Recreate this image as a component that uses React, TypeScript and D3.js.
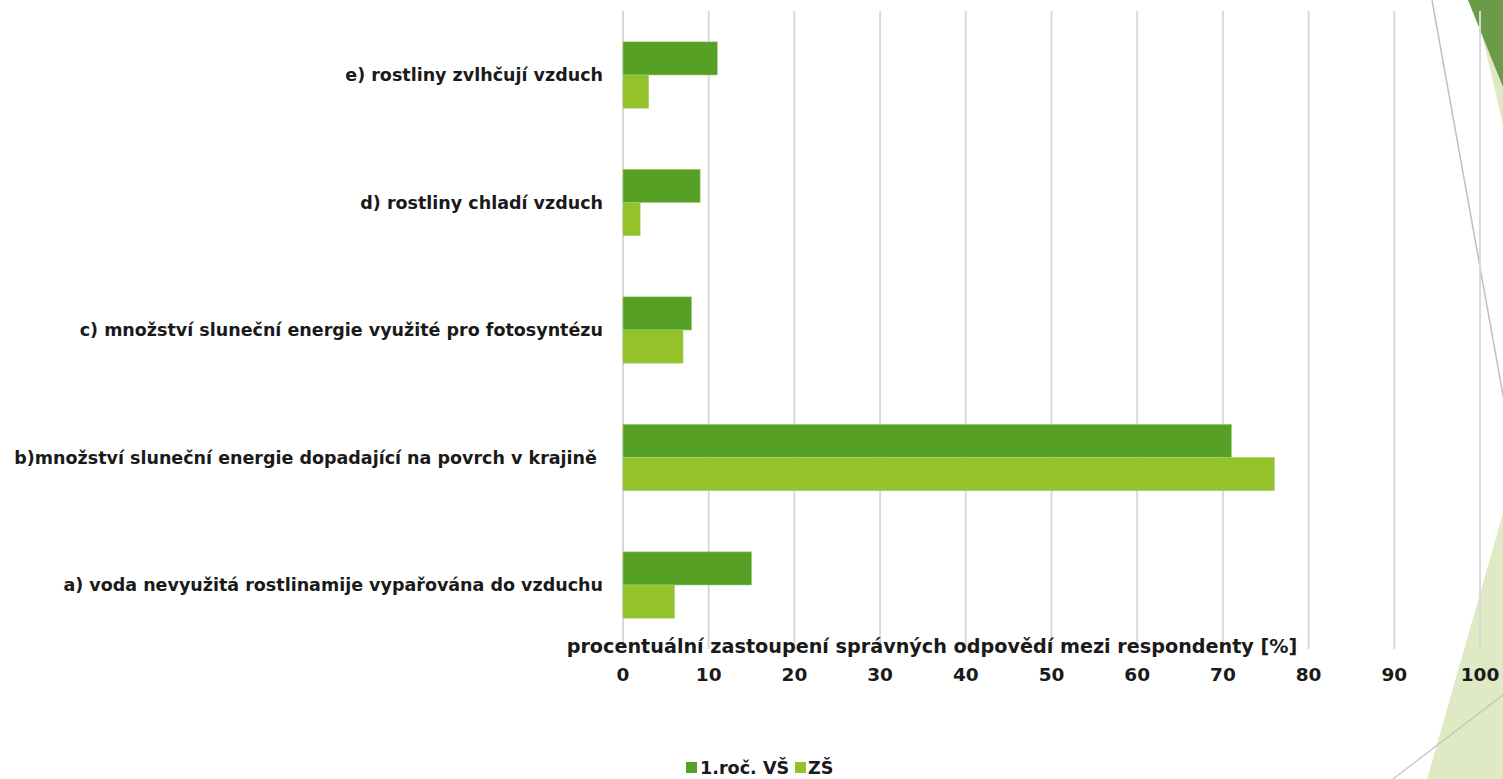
import React from "react";
import * as d3 from "d3";

const categories = [
  "e) rostliny zvlhčují vzduch",
  "d) rostliny chladí vzduch",
  "c) množství sluneční energie využité pro fotosyntézu",
  "b)množství sluneční energie dopadající na povrch v krajině ",
  "a) voda nevyužitá rostlinamije vypařována do vzduchu",
];
const seriesNames = ["1.roč. VŠ", "ZŠ"];
const vsValues = [11, 9, 8, 71, 15];
const zsValues = [3, 2, 7, 76, 6];
const xTicks = [0, 10, 20, 30, 40, 50, 60, 70, 80, 90, 100];
const axisTitle = "procentuální zastoupení správných odpovědí mezi respondenty [%]";

const colors = ["#56a026", "#93c229"];
const font = "'DejaVu Sans', Verdana, sans-serif";

export default function App() {
  const width = 1503;
  const height = 779;

  const x = d3.scaleLinear().domain([0, 100]).range([623, 1480]);
  const y = d3
    .scaleBand<string>()
    .domain(categories)
    .range([11.25, 648.75])
    .paddingInner(0.48)
    .paddingOuter(0.24);
  const sub = d3.scaleBand<string>().domain(seriesNames).range([0, y.bandwidth()]);

  const series = [vsValues, zsValues];

  return (
    <svg
      width={width}
      height={height}
      style={{ position: "absolute", left: 0, top: 0, background: "#fff" }}
    >
      {/* background decoration on the right */}
      <polygon points="1474,0 1503,0 1503,125" fill="#dfeac4" />
      <polygon points="1468,0 1503,0 1503,87" fill="#6b9a48" />
      <polygon points="1427,779 1503,513 1503,779" fill="#dfeac4" />
      <line x1={1432} y1={0} x2={1510} y2={434} stroke="#c0c0c0" strokeWidth={1.5} />
      <line x1={1393} y1={779} x2={1503} y2={695} stroke="#c0c0c0" strokeWidth={1.2} />

      {/* gridlines */}
      {xTicks.map((t) => (
        <line
          key={t}
          x1={x(t)}
          x2={x(t)}
          y1={11}
          y2={649}
          stroke="#d9d9d9"
          strokeWidth={2}
        />
      ))}

      {/* bars */}
      {categories.map((c, i) => (
        <g key={c} transform={`translate(0,${y(c)})`}>
          {seriesNames.map((s, j) => (
            <rect
              key={s}
              x={x(0)}
              y={sub(s)}
              width={x(series[j][i]) - x(0)}
              height={sub.bandwidth()}
              fill={colors[j]}
              stroke="#9fd07a"
              strokeWidth={0.6}
            />
          ))}
        </g>
      ))}

      {/* category labels */}
      {categories.map((c) => (
        <text
          key={c}
          x={603}
          y={(y(c) as number) + y.bandwidth() / 2}
          dy="0.35em"
          textAnchor="end"
          fontFamily={font}
          fontWeight={700}
          fontSize={17.5}
          fill="#1a1a1a"
          style={{ whiteSpace: "pre" }}
        >
          {c}
        </text>
      ))}

      {/* axis title */}
      <text
        x={932}
        y={653}
        textAnchor="middle"
        fontFamily={font}
        fontWeight={700}
        fontSize={19.2}
        fill="#1a1a1a"
      >
        {axisTitle}
      </text>

      {/* tick labels */}
      {xTicks.map((t) => (
        <text
          key={t}
          x={x(t)}
          y={675}
          dy="0.35em"
          textAnchor="middle"
          fontFamily={font}
          fontWeight={700}
          fontSize={18.5}
          fill="#1a1a1a"
        >
          {t}
        </text>
      ))}

      {/* legend */}
      <g fontFamily={font} fontWeight={700} fontSize={17.6} fill="#1a1a1a">
        <rect x={686} y={762} width={11} height={11} fill={colors[0]} />
        <text x={700} y={768} dy="0.35em">
          {seriesNames[0]}
        </text>
        <rect x={795} y={762} width={11} height={11} fill={colors[1]} />
        <text x={808} y={768} dy="0.35em">
          {seriesNames[1]}
        </text>
      </g>
    </svg>
  );
}
